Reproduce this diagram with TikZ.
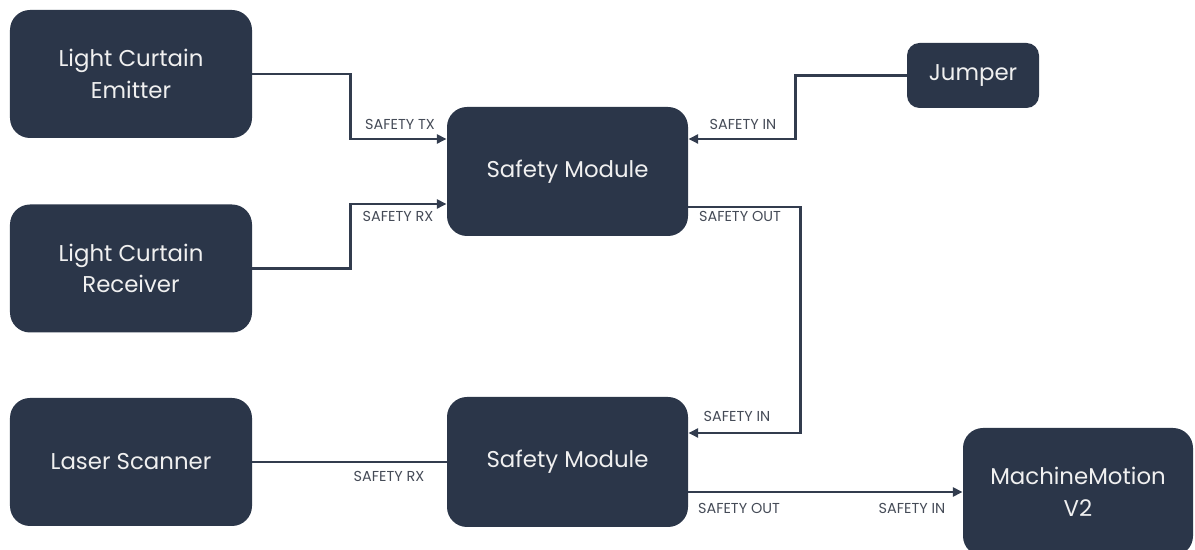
\documentclass[tikz,border=0pt]{standalone}
\usepackage{fontspec}
\setmainfont{Poppins}
\usetikzlibrary{arrows.meta}

\definecolor{boxnavy}{HTML}{2B3649}
\definecolor{wirenavy}{HTML}{323C4E}
\definecolor{labelgray}{HTML}{454B57}

\begin{document}
\begin{tikzpicture}[
    block/.style={fill=boxnavy, draw=none, rounded corners=0.4cm,
        minimum width=4.84cm, minimum height=2.56cm, align=center,
        text=white!94!black, font=\fontsize{13}{18}\selectfont},
    wire/.style={draw=wirenavy, line width=1.6pt},
    tip/.style={-{Triangle[length=5.5pt,width=5pt]}},
    tag/.style={text=labelgray, font=\fontsize{8.2}{10}\selectfont, inner sep=0pt}
]
\useasboundingbox (0,0) rectangle (23.9,11);

% Sources on the left
\node[block] (emitter) at (2.62,9.52) {Light Curtain\\Emitter};
\node[block] (receiver) at (2.62,5.63) {Light Curtain\\Receiver};
\node[block] (scanner) at (2.62,1.76) {Laser Scanner};

% Safety modules
\node[block, minimum width=4.82cm, minimum height=2.58cm] (topmod) at (11.35,7.57) {Safety Module};
\node[block, minimum width=4.82cm, minimum height=2.6cm] (botmod) at (11.35,1.76) {Safety Module};

% Jumper and controller
\node[block, minimum width=2.64cm, minimum height=1.3cm, rounded corners=0.25cm] (jumper) at (19.46,9.49) {Jumper};
\node[block, minimum width=4.6cm] (machine) at (21.56,1.16) {MachineMotion\\V2};

% Wiring into the upper module
\draw[wire, tip] (emitter.east) -- ++(1.96,0) |- ([yshift=0.65cm]topmod.west);
\draw[wire, tip] (receiver.east) -- ++(1.96,0) |- ([yshift=-0.65cm]topmod.west);
\draw[wire, tip] (jumper.west) -- ++(-2.22,0) |- ([yshift=0.65cm]topmod.east);

% Upper module chained to the lower one
\draw[wire, tip] ([yshift=-0.71cm]topmod.east) -- ++(2.24,0) |- ([yshift=0.58cm]botmod.east);

% Lower module
\draw[wire] (scanner.east) -- (botmod.west);
\draw[wire, tip] (botmod.east |- machine.west) -- (machine.west);

% Port labels
\foreach \name/\x/\y/\txt in {tx/8.0/8.52/SAFETY TX, rxa/7.96/6.68/SAFETY RX,
                         ina/14.86/8.52/SAFETY IN, outa/14.8/6.67/SAFETY OUT,
                         inb/14.74/2.68/SAFETY IN, rxb/7.78/1.47/SAFETY RX,
                         outb/14.78/0.83/SAFETY OUT, inc/18.24/0.83/SAFETY IN} {
    \node[tag] (\name) at (\x,\y) {\txt};
}

\end{tikzpicture}
\end{document}
